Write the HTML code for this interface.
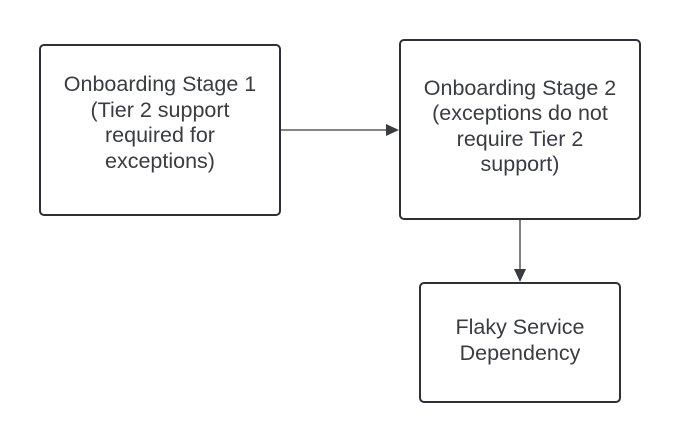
<!DOCTYPE html>
<html><head><style>
body{margin:0;background:#fff;}
.b{position:absolute;box-sizing:border-box;border:2px solid #2e3036;border-radius:5px;background:#fff;display:flex;align-items:center;justify-content:center;text-align:center;font-family:"Liberation Sans",sans-serif;font-size:21.5px;color:#3a3c42;line-height:25.5px;}
</style></head><body>
<div style="position:relative;width:680px;height:443px;overflow:hidden">
<svg width="680" height="443" style="position:absolute;left:0;top:0">
<line x1="281" y1="130" x2="388" y2="130" stroke="#3a3c42" stroke-width="1.3"/>
<polygon points="386,124 399,130 386,136" fill="#3a3c42"/>
<line x1="520" y1="219" x2="520" y2="272" stroke="#3a3c42" stroke-width="1.3"/>
<polygon points="514,269 520,282 526,269" fill="#3a3c42"/>
</svg>
<div class="b" style="left:39px;top:44px;width:242px;height:172px;padding-bottom:14px">Onboarding Stage 1<br>(Tier 2 support<br>required for<br>exceptions)</div>
<div class="b" style="left:399px;top:39px;width:242px;height:181px;padding-bottom:6px">Onboarding Stage 2<br>(exceptions do not<br>require Tier 2<br>support)</div>
<div class="b" style="left:419px;top:282px;width:202px;height:121px;padding-bottom:4px">Flaky Service<br>Dependency</div>
</div>
</body></html>
